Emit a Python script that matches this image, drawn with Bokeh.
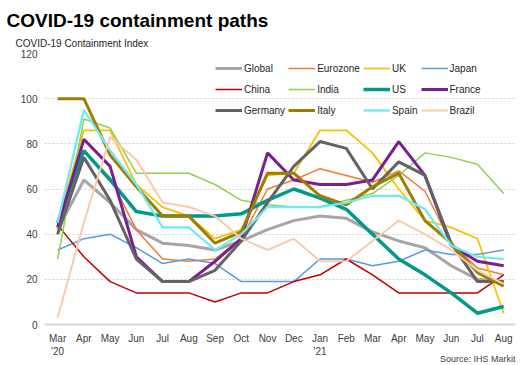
from bokeh.plotting import figure
from bokeh.models import FixedTicker, Legend, LegendItem, Title
from bokeh.embed import file_html
from bokeh.resources import INLINE

months = ["Mar\n'20", "Apr", "May", "Jun", "Jul", "Aug", "Sep", "Oct", "Nov", "Dec",
          "Jan\n'21", "Feb", "Mar", "Apr", "May", "Jun", "Jul", "Aug"]

global_idx = [42, 64, 54, 42, 36, 35, 33, 37, 42, 46, 48, 47, 41, 37, 34, 26, 20, 19]
eurozone = [44, 77, 65, 42, 29, 28, 29, 38, 60, 64, 69, 66, 63, 68, 59, 36, 25, 22]
uk = [45, 86, 86, 62, 52, 48, 38, 42, 66, 67, 86, 86, 76, 60, 46, 43, 38, 5]
japan = [33, 38, 40, 34, 27, 29, 27, 19, 19, 19, 29, 29, 26, 28, 33, 31, 31, 33]
china = [44, 30, 19, 14, 14, 14, 10, 14, 14, 19, 22, 29, 22, 14, 14, 14, 14, 22]
india = [29, 91, 87, 67, 67, 67, 62, 55, 53, 52, 52, 55, 58, 66, 76, 74, 71, 58]
us = [45, 77, 64, 50, 48, 48, 48, 49, 55, 60, 56, 51, 40, 29, 22, 14, 5, 8]
france = [43, 82, 70, 30, 19, 19, 28, 38, 76, 64, 62, 62, 64, 81, 66, 35, 28, 26]
germany = [40, 74, 55, 29, 19, 19, 24, 37, 54, 70, 81, 78, 60, 72, 66, 36, 19, 19]
italy = [100, 100, 75, 61, 48, 48, 36, 41, 67, 67, 57, 53, 61, 67, 46, 36, 23, 17]
spain = [45, 95, 77, 62, 43, 43, 33, 40, 52, 52, 52, 54, 57, 57, 51, 35, 30, 29]
brazil = [3, 45, 83, 73, 54, 52, 48, 38, 33, 38, 28, 28, 37, 46, 40, 33, 24, 18]

series_names = ["Global", "Eurozone", "UK", "Japan", "China", "India", "US", "France",
                "Germany", "Italy", "Spain", "Brazil"]
series_values = [global_idx, eurozone, uk, japan, china, india, us, france,
                 germany, italy, spain, brazil]
colors = ["#A6A6A6", "#ED7D31", "#F5C300", "#5B9BD5", "#C00000", "#92D050",
          "#00998C", "#7A1F8F", "#636363", "#A07D00", "#70EAF2", "#F8CBAD"]
widths = [3, 1.5, 1.75, 1.5, 1.5, 1.5, 3.5, 3, 3, 3, 2.25, 2]

FONT = "Liberation Sans"

p = figure(width=527, height=365, output_backend="svg", toolbar_location=None,
           x_range=(-0.5, 17.45), y_range=(0, 120),
           min_border_left=44, min_border_right=12, min_border_top=53, min_border_bottom=41)
p.outline_line_color = None
p.background_fill_color = "white"

x = list(range(len(months)))
items = {}
for name, vals, c, w in zip(series_names, series_values, colors, widths):
    r = p.line(x, vals, line_color=c, line_width=w)
    items[name] = LegendItem(label=name, renderers=[r])

# axes
p.xaxis.ticker = FixedTicker(ticks=x)
p.xaxis.major_label_overrides = {i: m for i, m in enumerate(months)}
p.yaxis.ticker = FixedTicker(ticks=[0, 20, 40, 60, 80, 100, 120])
for ax in (p.xaxis[0], p.yaxis[0]):
    ax.major_tick_line_color = None
    ax.minor_tick_line_color = None
    ax.major_tick_out = 0
    ax.major_tick_in = 0
    ax.major_label_text_font = FONT
    ax.major_label_text_font_size = "10px"
    ax.major_label_text_color = "#404040"
p.yaxis.axis_line_color = None
p.yaxis.major_label_standoff = 7
p.xaxis.axis_line_color = "#D9D9D9"
p.xaxis.axis_line_width = 2
p.xaxis.major_label_standoff = 8

p.xgrid.grid_line_color = None
p.ygrid.grid_line_color = "#D0D0D0"
p.ygrid.grid_line_dash = "2 2"
p.ygrid.grid_line_width = 1

# legend filled column by column: arrange so rows read Global, Eurozone, UK, Japan ...
ncol, nrow = 4, 3
order = [series_names[r * ncol + c] for c in range(ncol) for r in range(nrow)]
legend = Legend(items=[items[n] for n in order], ncols=4, location=(171, 205),
                label_text_font=FONT, label_text_font_size="10px", label_text_color="#262626",
                glyph_width=27, glyph_height=18, label_height=18, label_standoff=2,
                spacing=3, padding=0, margin=0,
                background_fill_alpha=0, border_line_alpha=0)
p.add_layout(legend, "center")

p.add_layout(Title(text="COVID-19 Containment Index", text_font=FONT,
                   text_font_size="10px", text_font_style="normal", text_color="#262626",
                   align="left", offset=-29, standoff=9), "above")
p.add_layout(Title(text="COVID-19 containment paths", text_font=FONT,
                   text_font_size="19px", text_font_style="bold", text_color="#000000",
                   align="left", offset=-38, standoff=2), "above")
p.add_layout(Title(text="Source: IHS Markit", text_font=FONT,
                   text_font_size="9px", text_font_style="normal", text_color="#404040",
                   align="right", offset=0, standoff=-12, vertical_align="top"), "below")

open("out.html", "w").write(file_html(p, INLINE))
